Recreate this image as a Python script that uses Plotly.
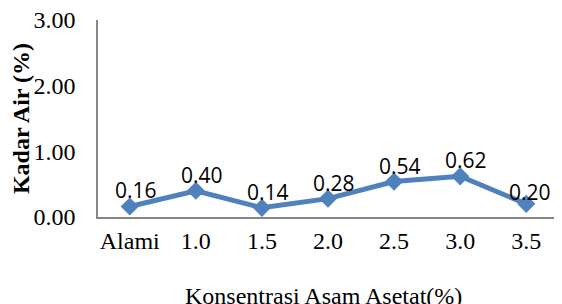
import plotly.graph_objects as go

categories = ["Alami", "1.0", "1.5", "2.0", "2.5", "3.0", "3.5"]
kadar_air = [0.16, 0.40, 0.14, 0.28, 0.54, 0.62, 0.20]
y_ticks = [0, 1, 2, 3]
y_tick_labels = ["0.00", "1.00", "2.00", "3.00"]

line_color = "#4F81BD"
axis_color = "#868686"

fig = go.Figure()
fig.add_trace(go.Scatter(
    x=categories, y=kadar_air, mode="lines+markers",
    line=dict(color=line_color, width=5),
    marker=dict(symbol="diamond", size=14, color=line_color),
    showlegend=False, hoverinfo="skip", cliponaxis=False,
))

annotations = []
for i, v in enumerate(kadar_air):
    last = i == len(kadar_air) - 1
    annotations.append(dict(
        x=i, y=v, xref="x", yref="y", text=f"{v:.2f}", showarrow=False,
        xshift=4 if last else 6, yshift=12 if last else 16,
        font=dict(family="Open Sans", size=21, color="black"),
    ))
annotations.append(dict(
    x=0.49, y=-0.40, xref="paper", yref="paper", text="Konsentrasi Asam Asetat(%)",
    showarrow=False, yanchor="middle",
    font=dict(family="Liberation Serif", size=24, color="black"),
))

fig.update_layout(
    width=562, height=304,
    margin=dict(l=90, r=12, t=12, b=95, autoexpand=False),
    paper_bgcolor="white", plot_bgcolor="white",
    annotations=annotations,
    xaxis=dict(
        type="category", showgrid=False, zeroline=False, automargin=False,
        showline=True, linecolor=axis_color, linewidth=1.5,
        ticks="", ticklabelstandoff=1, ticklabeloverflow="allow",
        tickfont=dict(family="Liberation Serif", size=24, color="black"),
    ),
    yaxis=dict(
        range=[0, 3], tickvals=y_ticks, ticktext=y_tick_labels,
        showgrid=False, zeroline=False, automargin=False,
        showline=True, linecolor=axis_color, linewidth=1.5,
        ticks="", ticklabelstandoff=16, ticklabeloverflow="allow",
        tickfont=dict(family="Liberation Serif", size=24, color="black"),
        title=dict(text="<b>Kadar Air (%)</b>", standoff=2,
                   font=dict(family="Liberation Serif", size=24, color="black")),
    ),
)

fig.write_html("out.html")
